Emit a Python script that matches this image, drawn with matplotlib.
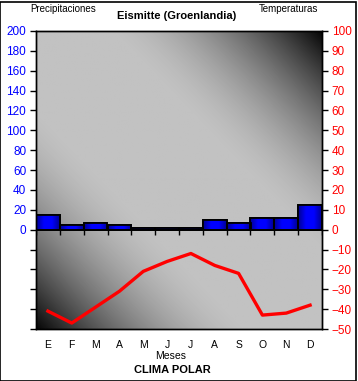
import numpy as np
import matplotlib
matplotlib.use('Agg')
import matplotlib.pyplot as plt
from matplotlib.colors import LinearSegmentedColormap

plt.rcParams['font.family'] = ['Liberation Sans', 'DejaVu Sans']

# datos
meses = ['E', 'F', 'M', 'A', 'M', 'J', 'J', 'A', 'S', 'O', 'N', 'D']
precip = [15, 5, 7, 5, 2, 2, 2, 10, 7, 12, 12, 25]
temp = [-41, -47, -39, -31, -21, -16, -12, -18, -22, -43, -42, -38]

W, H = 358, 381
fig = plt.figure(figsize=(W / 100, H / 100), dpi=100)
fig.patch.set_facecolor('white')

def fx(px):
    return px / W

def fy(py):
    return 1 - py / H

ax = fig.add_axes([fx(36), fy(329), fx(322) - fx(36), fy(31) - fy(329)])
ax2 = ax.twinx()

# fondo degradado (claro en la diagonal, oscuro en dos esquinas)
n = 300
u, v = np.meshgrid(np.linspace(0, 1, n), np.linspace(0, 1, n))
d = np.abs(u - v)
t = np.clip((d - 0.25) / 0.75, 0, 1)
val = 1 - t ** 1.7
cmap = LinearSegmentedColormap.from_list('g', ['#060606', '#c2c2c2'])
ax.imshow(val, cmap=cmap, vmin=0, vmax=1, extent=[0, 1, 0, 1],
          transform=ax.transAxes, aspect='auto', zorder=0, interpolation='bilinear')

x = np.arange(len(meses))
bars = ax.bar(x, precip, width=1.0, color='#0000ff', edgecolor='black',
              linewidth=1.3, zorder=2)
bcmap = LinearSegmentedColormap.from_list('b', ['#000090', '#0000ff', '#0000ff', '#000090'])
grad = np.linspace(0, 1, 64).reshape(1, -1)
for b in bars:
    x0, y0 = b.get_x(), b.get_y()
    im = ax.imshow(grad, cmap=bcmap, aspect='auto', zorder=2.1,
                   extent=[x0, x0 + b.get_width(), y0, y0 + b.get_height()])
    im.set_clip_path(b)
    ax.bar(b.get_x() + b.get_width() / 2, b.get_height(), width=b.get_width(),
           fill=False, edgecolor='black', linewidth=1.3, zorder=2.2)

ax.axhline(0, color='black', linewidth=1.2, zorder=3)
ax.vlines(np.arange(-0.5, 12), -5, 0, color='black', linewidth=1, zorder=3)

ax.set_xlim(-0.5, 11.5)
ax.set_ylim(-100, 200)
ax.set_yticks(np.arange(-100, 201, 20))
ax.set_yticklabels([str(t) if t >= 0 else '' for t in range(-100, 201, 20)])
ax.set_xticks(x)
ax.set_xticklabels(meses)
ax.tick_params(axis='x', length=0, pad=8, labelsize=7.5)
ax.tick_params(axis='y', colors='black', labelcolor='blue', length=4, width=1,
               direction='out', labelsize=8.5, pad=3)

ax2.plot(x, temp, color='#ff0000', linewidth=2.4, zorder=4)
ax2.set_ylim(-50, 100)
ax2.set_yticks(np.arange(-50, 101, 10))
ax2.tick_params(axis='y', colors='black', labelcolor='red', length=4, width=1,
                direction='out', labelsize=8.5, pad=3)

for a in (ax, ax2):
    for s in a.spines.values():
        s.set_color('black')
        s.set_linewidth(1)

fig.text(fx(177), fy(16), 'Eismitte (Groenlandia)', ha='center', va='center',
         fontsize=8, fontweight='bold')
fig.text(fx(63), fy(9), 'Precipitaciones', ha='center', va='center', fontsize=7)
fig.text(fx(288), fy(9), 'Temperaturas', ha='center', va='center', fontsize=7)
fig.text(fx(171), fy(356), 'Meses', ha='center', va='center', fontsize=7.5)
fig.text(fx(172), fy(370), 'CLIMA POLAR', ha='center', va='center',
         fontsize=8, fontweight='bold')

# marco
fig.add_artist(plt.Rectangle((0.001, 0.001), 0.994, 0.995, transform=fig.transFigure,
                             fill=False, edgecolor='black', linewidth=1.2))

fig.savefig('out.png', dpi=100)
